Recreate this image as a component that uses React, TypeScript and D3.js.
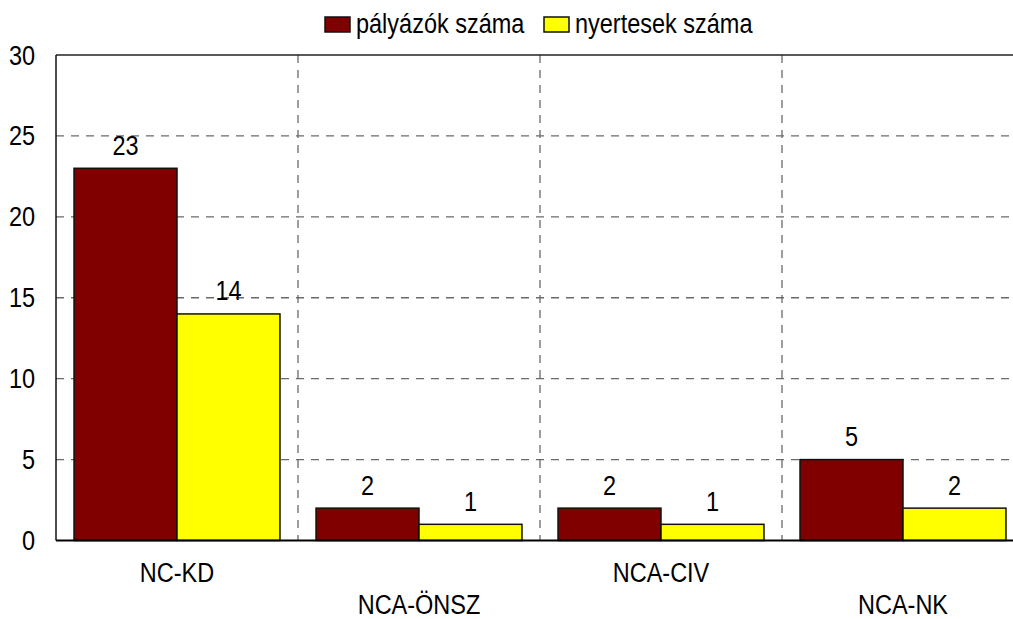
import React from "react";
import * as d3 from "d3";

const categories = ["NC-KD", "NCA-ÖNSZ", "NCA-CIV", "NCA-NK"];
const seriesNames = ["pályázók száma", "nyertesek száma"];
const applicants = [23, 2, 2, 5];
const winners = [14, 1, 1, 2];
const yTicks = [0, 5, 10, 15, 20, 25, 30];
const colors = ["#800000", "#FFFF00"];

const W = 1013;
const H = 619;
const left = 56;
const right = 1024;
const top = 55;
const bottom = 540.5;
const FONT = "'Liberation Sans', Arial, sans-serif";
const FS = 27;
const SX = 0.87;

function T({
  x,
  y,
  anchor = "start",
  children,
}: {
  x: number;
  y: number;
  anchor?: "start" | "middle" | "end";
  children: React.ReactNode;
}) {
  return (
    <g transform={`translate(${x},${y}) scale(${SX},1)`}>
      <text x={0} y={0} textAnchor={anchor} fontSize={FS} fill="#000">
        {children}
      </text>
    </g>
  );
}

export default function App() {
  const x0 = d3.scaleBand<string>().domain(categories).range([left, right]).padding(0);
  const x1 = d3
    .scaleBand<string>()
    .domain(seriesNames)
    .range([0, x0.bandwidth()])
    .paddingInner(0)
    .paddingOuter(0.175);
  const y = d3.scaleLinear().domain([0, 30]).range([bottom, top]);
  const series = [applicants, winners];

  return (
    <svg
      width={W}
      height={H}
      style={{ position: "absolute", left: 0, top: 0, background: "#fff" }}
      fontFamily={FONT}
    >
      {/* horizontal grid */}
      {yTicks
        .filter((t) => t > 0 && t < 30)
        .map((t) => (
          <line
            key={"h" + t}
            x1={left}
            x2={right}
            y1={y(t)}
            y2={y(t)}
            stroke="#6a6a6a"
            strokeWidth={1.3}
            strokeDasharray="8,7"
          />
        ))}
      {/* vertical grid */}
      {categories.slice(1).map((c) => (
        <line
          key={"v" + c}
          x1={x0(c)!}
          x2={x0(c)!}
          y1={top}
          y2={bottom}
          stroke="#6a6a6a"
          strokeWidth={1.3}
          strokeDasharray="8,7"
        />
      ))}
      {/* border */}
      <line x1={left} x2={right} y1={top} y2={top} stroke="#222" strokeWidth={1.5} />
      <line x1={left} x2={left} y1={top} y2={bottom} stroke="#111" strokeWidth={1.5} />
      {/* bars */}
      {categories.map((c, i) =>
        seriesNames.map((s, j) => {
          const v = series[j][i];
          const bx = x0(c)! + x1(s)!;
          return (
            <g key={c + s}>
              <rect
                x={bx}
                y={y(v)}
                width={x1.bandwidth()}
                height={bottom - y(v)}
                fill={colors[j]}
                stroke="#111"
                strokeWidth={1.5}
              />
              <T x={bx + x1.bandwidth() / 2} y={y(v) - 13.5} anchor="middle">
                {v}
              </T>
            </g>
          );
        })
      )}
      <line x1={left} x2={right} y1={bottom} y2={bottom} stroke="#000" strokeWidth={2} />
      {/* y tick labels */}
      {yTicks.map((t) => (
        <T key={"yt" + t} x={35} y={y(t) + 9.5} anchor="end">
          {t}
        </T>
      ))}
      {/* x labels */}
      {categories.map((c, i) => (
        <T key={"xl" + c} x={x0(c)! + x0.bandwidth() / 2} y={i % 2 === 0 ? 582 : 614} anchor="middle">
          {c}
        </T>
      ))}
      {/* legend */}
      {seriesNames.map((s, j) => {
        const lx = j === 0 ? 325 : 544;
        return (
          <g key={"lg" + s}>
            <rect x={lx} y={17} width={25} height={15} fill={colors[j]} stroke="#111" strokeWidth={1.5} />
            <T x={lx + 31} y={33}>
              {s}
            </T>
          </g>
        );
      })}
    </svg>
  );
}
